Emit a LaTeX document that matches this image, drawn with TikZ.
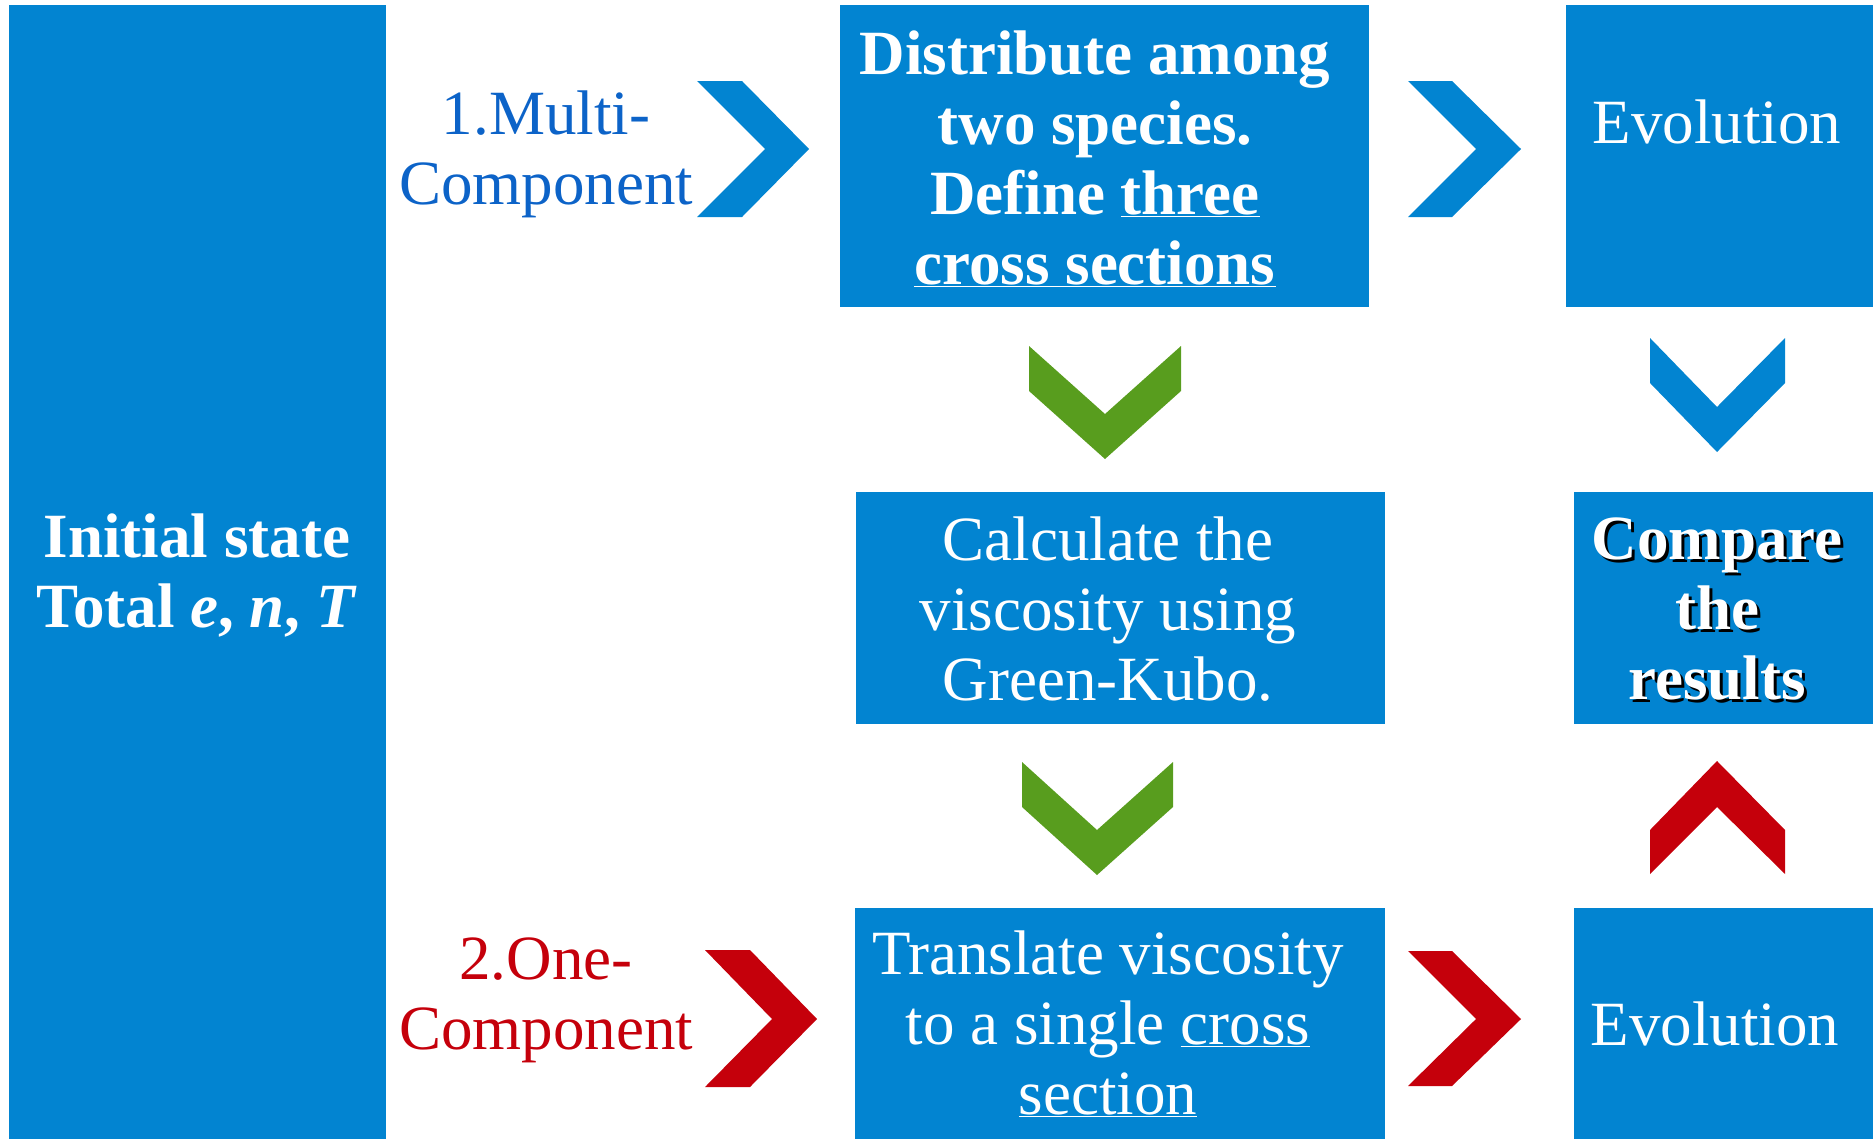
\documentclass[tikz,border=0pt]{standalone}
\usepackage{fontspec}
\setmainfont{Liberation Serif}
\definecolor{boxblue}{RGB}{2,132,209}
\definecolor{chgreen}{RGB}{88,157,30}
\definecolor{chred}{RGB}{197,0,11}
\definecolor{txtblue}{RGB}{12,99,200}
\begin{document}
\begin{tikzpicture}[x=1pt,y=-1pt,
  bigfont/.style={font=\fontsize{63}{70}\selectfont},
  box/.style={fill=boxblue, draw=none, anchor=north west, inner sep=0pt, outer sep=0pt},
  wtext/.style={text=white, align=center, bigfont, inner sep=0pt},
  lbl/.style={align=center, bigfont, inner sep=0pt}]
\useasboundingbox (0,0) rectangle (1873,1138);
% boxes
\node[box, minimum width=377pt, minimum height=1140pt] (init) at (9,5) {};
\node[box, minimum width=529pt, minimum height=302pt] (dist) at (840,5) {};
\node[box, minimum width=310pt, minimum height=302pt] (evoA) at (1566,5) {};
\node[box, minimum width=529pt, minimum height=232pt] (calc) at (856,492) {};
\node[box, minimum width=302pt, minimum height=232pt] (comp) at (1574,492) {};
\node[box, minimum width=530pt, minimum height=232pt] (trans) at (855,908) {};
\node[box, minimum width=302pt, minimum height=232pt] (evoB) at (1574,908) {};
% box texts
\node[wtext] (initT) at (197,576)
  {\bfseries Initial state\\\bfseries Total \textit{e}, \textit{n}, \textit{T}};
\node[wtext] (distT) at (1095,159)
  {\bfseries Distribute among\\\bfseries two species.\\\bfseries Define \underline{three}\\\bfseries \underline{cross sections}};
\node[wtext, anchor=base] (evoAT) at (1717,143) {Evolution};
\node[wtext] (calcT) at (1108,609) {Calculate the\\viscosity using\\Green-Kubo.};
\node[lbl, text=black] (compS) at (1720,612) {\bfseries Compare\\\bfseries the\\\bfseries results};
\node[lbl, text=white] (compT) at (1717,609) {\bfseries Compare\\\bfseries the\\\bfseries results};
\node[wtext] (transT) at (1108,1024)
  {Translate viscosity\\to a single \underline{cross}\\\underline{section}};
\node[wtext] (evoBT) at (1715,1024) {Evolution};
% labels
\node[lbl, text=txtblue] (multi) at (546,154) {1.Multi-\\Component};
\node[lbl, text=chred] (one) at (546,1000) {2.One-\\Component};
% chevrons
\fill[boxblue] (697,81) -- (742,81) -- (809,149) -- (742,217) -- (697,217) -- (765,149) -- cycle;
\fill[boxblue] (1408,81) -- (1452,81) -- (1521,149) -- (1452,217) -- (1408,217) -- (1476,149) -- cycle;
\fill[boxblue] (1650,338) -- (1717,407) -- (1785,338) -- (1785,383) -- (1717,452) -- (1650,383) -- cycle;
\fill[chgreen] (1029,346) -- (1105,414) -- (1181,346) -- (1181,391) -- (1105,459) -- (1029,391) -- cycle;
\fill[chgreen] (1022,762) -- (1097,830) -- (1173,762) -- (1173,807) -- (1097,875) -- (1022,807) -- cycle;
\fill[chred] (1650,874) -- (1717,807) -- (1785,874) -- (1785,830) -- (1717,761) -- (1650,830) -- cycle;
\fill[chred] (705,950) -- (750,950) -- (817,1019) -- (750,1087) -- (705,1087) -- (772,1019) -- cycle;
\fill[chred] (1408,951) -- (1452,951) -- (1521,1019) -- (1452,1086) -- (1408,1086) -- (1476,1019) -- cycle;
\end{tikzpicture}
\end{document}
